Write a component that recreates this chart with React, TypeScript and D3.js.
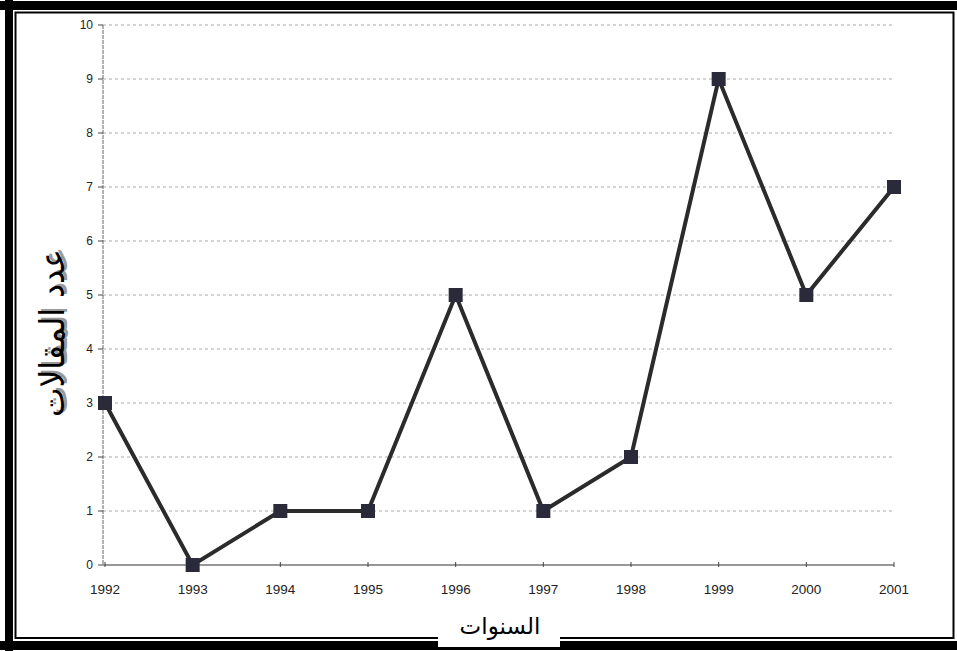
import React from "react";
import * as d3 from "d3";

const years = ["1992","1993","1994","1995","1996","1997","1998","1999","2000","2001"];
const counts = [3, 0, 1, 1, 5, 1, 2, 9, 5, 7];
const yTicks = [0,1,2,3,4,5,6,7,8,9,10];

export default function App() {
  const W = 957, H = 651;
  const x = d3.scalePoint<string>().domain(years).range([105, 894]);
  const y = d3.scaleLinear().domain([0, 10]).range([565, 25]);
  const line = d3.line<number>().x((_, i) => x(years[i])!).y(d => y(d));
  const font = "Liberation Sans, Arial, sans-serif";
  const arab = "DejaVu Sans, Noto Sans, sans-serif";
  return (
    <svg width={W} height={H} style={{ position: "absolute", left: 0, top: 0, background: "#fff" }}>
      <rect x={0} y={0} width={W} height={H} fill="#fff" />
      {/* frame */}
      <rect x={0} y={1} width={W} height={9} fill="#000" />
      <rect x={0} y={641} width={W} height={9} fill="#000" />
      <rect x={5} y={0} width={8} height={H} fill="#000" />
      <rect x={15.5} y={12.5} width={938} height={625.5} fill="none" stroke="#000" strokeWidth={2} />
      {/* gridlines */}
      {yTicks.slice(1).map(t => (
        <line key={t} x1={103} x2={894} y1={y(t)} y2={y(t)} stroke="#aaa" strokeWidth={1} strokeDasharray="3,3" />
      ))}
      {/* axes */}
      <line x1={103} x2={103} y1={y(10)} y2={y(0)} stroke="#666" strokeWidth={1} strokeDasharray="4,1" />
      <line x1={103} x2={894} y1={y(0)} y2={y(0)} stroke="#333" strokeWidth={1.2} />
      {yTicks.map(t => (
        <g key={t}>
          <line x1={98} x2={103} y1={y(t)} y2={y(t)} stroke="#444" />
          <text x={93} y={y(t) + 4} textAnchor="end" fontFamily={font} fontSize={12} fill="#222">{t}</text>
        </g>
      ))}
      {years.map(yr => (
        <g key={yr}>
          <line x1={x(yr)} x2={x(yr)} y1={y(0) - 3} y2={y(0) + 2} stroke="#444" />
          <text x={x(yr)} y={y(0) + 29} textAnchor="middle" fontFamily={font} fontSize={13.5} fill="#222">{yr}</text>
        </g>
      ))}
      {/* series */}
      <path d={line(counts)!} fill="none" stroke="#2b2b2b" strokeWidth={4} strokeLinejoin="miter" />
      {counts.map((c, i) => (
        <rect key={i} x={x(years[i])! - 7} y={y(c) - 7} width={14} height={14} fill="#2a2a3a" />
      ))}
      {/* y-axis label */}
      <g transform="translate(64,333) rotate(-90)">
        <text x={2} y={3} textAnchor="middle" fontFamily={arab} fontSize={34} fill="#999" textLength={168} lengthAdjust="spacingAndGlyphs" direction="rtl">عدد المقالات</text>
        <text x={0} y={0} textAnchor="middle" fontFamily={arab} fontSize={34} fill="#000" textLength={168} lengthAdjust="spacingAndGlyphs" direction="rtl">عدد المقالات</text>
      </g>
      {/* x-axis label box */}
      <rect x={438} y={612} width={122} height={35} fill="#fff" />
      <line x1={438} x2={560} y1={647.5} y2={647.5} stroke="#000" strokeWidth={1} />
      <text x={500} y={634} textAnchor="middle" fontFamily={arab} fontSize={23} fill="#000" direction="rtl">السنوات</text>
    </svg>
  );
}
